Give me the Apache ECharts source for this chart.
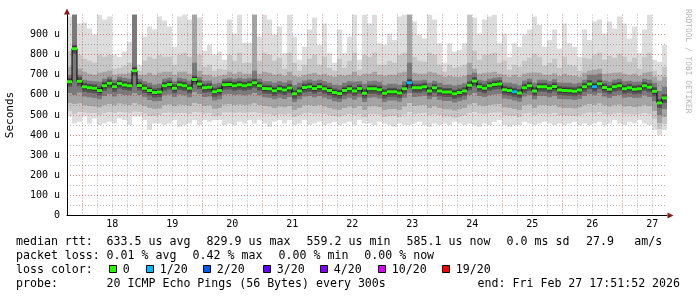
<!DOCTYPE html>
<html><head><meta charset="utf-8">
<script src="https://cdn.jsdelivr.net/npm/echarts@6/dist/echarts.min.js"></script>
<style>html,body{margin:0;padding:0;background:#fff}#c{width:697px;height:297px}</style>
</head><body><div id="c"></div>
<script>
// ---- data (microseconds), one value per 2-hour bucket, oldest first ----
const dayLabels = ['18','19','20','21','22','23','24','25','26','27'];
const yTickValues = [0,100,200,300,400,500,600,700,800,900];
const medianRtt = [665,830,668,640,635,633,622,645,658,640,
 657,649,645,720,647,633,622,612,614,645,
 652,633,650,646,633,676,654,635,638,616,
 622,650,652,646,650,645,650,660,645,632,
 630,621,630,625,634,606,620,637,641,632,
 640,630,622,612,607,622,630,620,632,608,
 630,630,626,608,616,616,610,630,661,635,
 636,640,620,635,620,614,614,606,612,620,
 648,669,640,633,645,652,654,626,622,616,
 610,636,646,620,640,640,633,642,624,622,
 621,618,624,640,654,640,655,637,628,640,
 646,630,635,628,630,645,638,618,560,585];
const lossCount = [0,0,0,0,0,0,0,0,0,0,0,0,0,0,0,0,0,0,0,0,
 0,0,0,0,0,0,0,0,0,0,0,0,0,0,0,0,0,0,0,0,
 0,0,0,0,0,0,0,0,0,0,0,0,0,0,0,0,0,0,0,0,
 0,0,0,0,0,0,0,0,1,0,0,0,0,0,0,0,0,0,0,0,
 0,0,0,0,0,0,0,0,0,1,0,0,0,0,0,0,0,0,0,0,
 0,0,0,0,0,1,0,0,0,0,0,0,0,0,0,0,0,0,0,0];
const pingMax = [990,1000,955,960,930,900,1000,975,990,800,
 790,815,865,1000,750,890,940,925,990,970,
 940,840,990,1000,975,1000,985,820,850,800,
 815,775,975,905,1000,860,860,1000,890,1000,
 975,900,940,808,1000,890,775,840,925,985,
 850,955,808,760,925,808,890,1000,775,1000,
 955,1000,857,850,905,873,990,1000,1000,965,
 900,880,1000,975,857,760,857,815,823,857,
 1000,985,905,975,990,1000,857,905,790,857,
 840,900,925,990,948,840,873,925,830,955,
 857,840,790,925,873,965,975,905,965,930,
 990,955,880,940,808,925,1000,775,765,850];
const band1High = [820,1000,800,780,770,760,800,790,800,730,
 735,745,760,1000,720,770,790,780,800,790,
 790,750,800,810,790,1000,800,740,750,720,
 730,725,800,770,810,760,760,1000,770,810,
 800,770,785,730,810,760,720,750,780,800,
 750,790,735,720,780,735,770,810,725,800,
 790,810,750,750,770,760,800,810,1000,790,
 770,765,810,800,750,715,750,735,740,750,
 1000,820,775,800,805,810,760,770,725,750,
 740,770,785,805,790,745,760,780,735,790,
 750,745,720,785,780,800,810,775,795,785,
 805,790,765,785,730,790,810,720,700,740];
const band2High = [740,1000,730,715,705,700,710,715,720,700,
 705,705,710,1000,700,700,710,700,710,715,
 715,700,715,715,705,1000,720,700,700,690,
 695,700,715,705,715,705,705,1000,705,715,
 710,700,705,695,715,695,690,700,705,710,
 700,705,695,690,700,695,700,715,695,705,
 705,715,700,695,700,700,710,715,1000,710,
 705,705,715,710,700,690,695,690,690,695,
 760,730,705,710,712,715,705,700,690,700,
 690,705,710,712,710,700,700,708,695,705,
 698,695,690,710,720,725,730,705,708,710,
 712,705,700,705,695,710,715,690,670,690];
const band3High = [700,1000,700,675,670,668,665,680,690,675,
 690,685,680,1000,680,668,660,650,655,680,
 685,668,685,680,670,760,690,670,672,655,
 660,680,685,680,685,680,685,720,680,668,
 668,660,668,662,672,648,660,672,676,670,
 675,668,660,650,648,660,668,665,668,655,
 668,670,665,648,655,655,650,668,760,672,
 672,675,660,670,660,650,652,645,650,658,
 700,710,675,670,680,685,688,662,660,655,
 648,672,680,660,675,675,668,678,662,660,
 660,655,660,675,700,700,705,672,665,675,
 680,668,670,665,665,680,675,660,620,640];
const band3Low = [610,600,612,592,588,585,578,595,605,592,
 605,600,598,610,600,588,575,568,570,598,
 602,590,602,598,588,615,605,590,592,572,
 578,602,605,600,602,598,602,610,598,588,
 586,578,586,580,590,565,578,592,596,588,
 595,586,578,568,565,578,586,576,588,565,
 586,588,582,565,572,572,566,586,610,590,
 592,596,578,590,576,570,570,562,568,576,
 600,610,595,590,598,602,605,582,578,572,
 566,592,600,578,595,595,588,596,580,578,
 578,575,580,595,605,598,608,592,585,595,
 600,586,590,585,586,598,590,568,500,530];
const band2Low = [560,555,558,548,545,542,538,550,555,548,
 558,552,550,560,552,545,535,530,532,550,
 552,545,552,550,545,560,555,545,548,530,
 535,552,555,550,552,550,552,558,550,545,
 542,535,542,538,545,525,535,548,550,545,
 550,542,535,528,525,535,542,535,545,525,
 542,545,540,525,530,530,525,542,560,545,
 548,550,535,545,535,528,528,522,528,535,
 552,560,548,545,550,552,555,538,535,530,
 525,548,552,535,550,550,545,550,538,535,
 535,532,538,550,555,550,558,548,542,550,
 552,542,545,540,542,550,545,520,460,490];
const band1Low = [520,505,515,512,508,510,500,510,515,510,
 515,512,510,518,515,508,495,495,500,510,
 512,508,510,510,505,515,512,508,510,495,
 500,512,512,510,512,510,512,515,510,505,
 505,498,505,502,508,490,500,508,510,505,
 508,505,500,495,492,500,505,500,505,490,
 505,505,502,490,495,495,490,505,515,505,
 508,510,500,505,500,492,492,488,492,500,
 510,515,508,505,510,512,512,500,498,495,
 490,508,510,500,508,508,505,510,500,498,
 498,495,500,508,512,508,515,505,502,508,
 510,505,505,502,505,510,505,480,430,455];
const pingMin = [492,458,467,492,458,483,450,458,467,458,
 483,475,450,492,492,475,425,458,458,450,
 458,475,442,450,458,475,450,475,467,475,
 475,450,458,450,467,458,475,458,475,458,
 442,467,475,458,475,450,458,475,450,458,
 467,450,458,467,450,458,467,450,475,458,
 458,450,467,458,450,442,458,450,450,458,
 467,450,442,458,450,458,450,467,458,450,
 458,450,442,458,450,467,475,450,442,450,
 450,467,458,450,458,467,458,450,458,450,
 458,467,450,458,450,458,467,450,458,475,
 458,450,467,458,475,458,450,425,400,425];

const lossLegendLabels = ['0','1/20','2/20','3/20','4/20','10/20','19/20'];
const lossLegendColors = ['#26ff00','#00b8ff','#0059ff','#5e00ff','#7e00ff','#dd00ff','#ff0000'];
const statsLines = [
  ['median rtt:', '633.5 us avg', '829.9 us max', '559.2 us min', '585.1 us now', '0.0 ms sd', '27.9', 'am/s'],
  ['packet loss:', '0.01 % avg', '0.42 % max', '0.00 % min', '0.00 % now'],
];
const probeText = '20 ICMP Echo Pings (56 Bytes) every 300s';
const endText = 'end: Fri Feb 27 17:51:52 2026';

// time: hours after Feb 18 00:00
const stepHours = 2;
const endHour = 9 * 24 + 17 + 51 / 60 + 52 / 3600;
const xMin = endHour - medianRtt.length * stepHours;

// ---- build tables ----
const smokeRows = medianRtt.map((m, i) => {
  const t0 = xMin + i * stepHours;
  return [t0, t0 + stepHours, pingMin[i], band1Low[i], band2Low[i], band3Low[i], m,
          band3High[i], band2High[i], band1High[i], pingMax[i], lossCount[i]];
});
const stepLine = medianRtt.map((m, i) => [xMin + i * stepHours, m]);
stepLine.push([endHour, medianRtt[medianRtt.length - 1]]);

const minorX = [], majorX = [];
for (let h = Math.ceil(xMin / 6) * 6; h <= endHour; h += 6) { if (h % 24 !== 0) minorX.push(h); }
for (let h = Math.ceil(xMin / 24) * 24; h <= endHour; h += 24) majorX.push(h);
const labelX = dayLabels.map((d, i) => 12 + 24 * i);
const minorY = [], majorY = [];
for (let v = 50; v < 1000; v += 100) minorY.push(v);
for (let v = 100; v < 1000; v += 100) majorY.push(v);

const smokeColors = ['#dddddd', '#c6c6c6', '#a4a4a4', '#7a7a7a'];
const levelDims = [[2, 10], [3, 9], [4, 8], [5, 7]];
function renderSmoke(params, api) {
  const t0 = api.value(0), t1 = api.value(1);
  const children = levelDims.map((d, k) => {
    const a = api.coord([t0, api.value(d[1])]);
    const b = api.coord([t1, api.value(d[0])]);
    return { type: 'rect', shape: { x: a[0], y: a[1], width: b[0] - a[0], height: b[1] - a[1] },
             style: { fill: smokeColors[k] } };
  });
  const m0 = api.coord([t0, api.value(6)]), m1 = api.coord([t1, api.value(6)]);
  children.push({ type: 'rect', shape: { x: m0[0], y: m0[1] - 4, width: m1[0] - m0[0], height: 9 },
                  style: { fill: '#555555' } });
  children.push({ type: 'rect', shape: { x: m0[0], y: m0[1] - 2.5, width: m1[0] - m0[0], height: 5 },
                  style: { fill: '#333333' } });
  return { type: 'group', children };
}
function renderMedian(params, api) {
  const a = api.coord([api.value(0), api.value(6)]);
  const b = api.coord([api.value(1), api.value(6)]);
  return { type: 'rect', shape: { x: a[0], y: a[1] - 1.5, width: b[0] - a[0], height: 3 },
           style: { fill: lossLegendColors[api.value(11)] } };
}

const FONT = '"DejaVu Sans Mono", monospace';
const gridRed = { color: 'rgba(215,50,50,0.6)', width: 1, type: [1, 2] };
const gridGrey = { color: 'rgba(110,110,110,0.5)', width: 1, type: [1, 2] };
const arrowColor = '#8b1a1a';

// ---- text graphics ----
const graphics = [];
function txt(x, y, s, size, color) {
  graphics.push({ type: 'text', x: x, y: y, silent: true,
    style: { text: s, fill: color || '#000', fontFamily: FONT, fontSize: size || 11.6, verticalAlign: 'middle', align: 'left' } });
}
const lineY = [241.5, 255.5, 269.5, 283.5];
const statX = [[16, 106.6, 206.6, 306.6, 406.6, 506.6, 586, 634.3], [16, 106.6, 192.6, 278.6, 364.3]];
statsLines.forEach((ln, r) => ln.forEach((s, k) => txt(statX[r][k], lineY[r], s)));
txt(16, lineY[2], 'loss color:');
const boxX = [109.5, 146.5, 203.5, 263.5, 320.5, 378.5, 442.5];
lossLegendLabels.forEach((lab, k) => {
  graphics.push({ type: 'rect', silent: true, shape: { x: boxX[k], y: 265.5, width: 7, height: 7 },
    style: { fill: lossLegendColors[k], stroke: '#000', lineWidth: 1 } });
  txt(boxX[k] + 13.3, lineY[2], lab);
});
txt(16, lineY[3], 'probe:');
txt(106.6, lineY[3], probeText);
txt(477.6, lineY[3], endText);
graphics.push({ type: 'text', x: 684, y: 9, rotation: -Math.PI / 2, silent: true,
  style: { text: 'RRDTOOL / TOBI OETIKER', fill: '#b4b4b4', fontFamily: FONT, fontSize: 7.9, verticalAlign: 'bottom', align: 'left' } });

const chart = echarts.init(document.getElementById('c'), null, { renderer: 'canvas' });
chart.setOption({
  animation: false,
  backgroundColor: '#ffffff',
  grid: { left: 67, top: 14.5, width: 600, height: 201, containLabel: false, outerBoundsMode: 'none' },
  xAxis: [
    { type: 'value', position: 'bottom', min: xMin, max: endHour, z: 3,
      axisLine: { show: true, onZero: false, symbol: ['none', 'triangle'], symbolSize: [6, 6], symbolOffset: [0, 3.5], lineStyle: { color: arrowColor, width: 0 } },
      axisTick: { show: false, customValues: minorX }, axisLabel: { show: false },
      splitLine: { show: true, lineStyle: gridGrey } },
    { type: 'value', position: 'bottom', min: xMin, max: endHour, z: 3,
      axisLine: { show: true, onZero: false, lineStyle: { color: '#000', width: 1 } },
      axisTick: { show: false, customValues: majorX },
      axisLabel: { customValues: labelX, margin: 4, fontFamily: FONT, fontSize: 10, color: '#000',
                   formatter: v => dayLabels[Math.round((v - 12) / 24)] },
      splitLine: { show: true, lineStyle: gridRed } }
  ],
  yAxis: [
    { type: 'value', position: 'left', min: 0, max: 1000, z: 3,
      axisLine: { show: true, onZero: false, symbol: ['none', 'triangle'], symbolSize: [6, 6], symbolOffset: [0, 3], lineStyle: { color: arrowColor, width: 0 } },
      axisTick: { show: false, customValues: minorY }, axisLabel: { show: false },
      splitLine: { show: true, lineStyle: gridGrey } },
    { type: 'value', position: 'left', min: 0, max: 1000, z: 3,
      name: 'Seconds', nameLocation: 'middle', nameGap: 51, nameRotate: 90,
      nameTextStyle: { fontFamily: FONT, fontSize: 11, color: '#000' },
      axisLine: { show: true, onZero: false, lineStyle: { color: '#000', width: 1 } },
      axisTick: { show: false, customValues: majorY },
      axisLabel: { customValues: yTickValues, margin: 7, fontFamily: FONT, fontSize: 10, color: '#000',
                   formatter: v => (v === 0 ? '0' : v + ' u') },
      splitLine: { show: true, lineStyle: gridRed } }
  ],
  series: [
    { type: 'custom', name: 'smoke', xAxisIndex: 1, yAxisIndex: 1, z: 2, clip: true,
      renderItem: renderSmoke, data: smokeRows, silent: true },
    { type: 'line', name: 'median', xAxisIndex: 1, yAxisIndex: 1, z: 4, step: 'end', data: stepLine,
      showSymbol: false, symbol: 'none', lineStyle: { color: '#000', width: 1 }, silent: true },
    { type: 'custom', name: 'loss', xAxisIndex: 1, yAxisIndex: 1, z: 5, clip: true,
      renderItem: renderMedian, data: smokeRows, silent: true }
  ],
  graphic: graphics
});
</script></body></html>
